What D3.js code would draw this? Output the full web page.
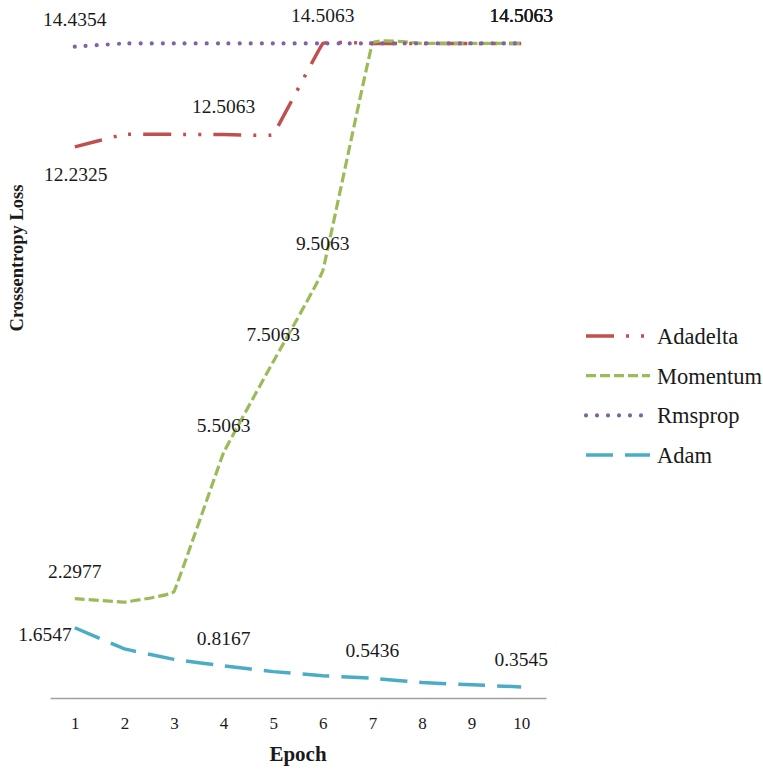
<!DOCTYPE html>
<html>
<head>
<meta charset="utf-8">
<script src="https://cdn.jsdelivr.net/npm/d3@7"></script>
<style>
  body { margin: 0; background: #fff; }
</style>
</head>
<body>
<div id="chart"></div>
<script>
// data
const epochs = [1, 2, 3, 4, 5, 6, 7, 8, 9, 10];
const adadelta = [12.2325, 12.5063, 12.5063, 12.5063, 12.5063, 14.5063, 14.5063, 14.5063, 14.5063, 14.5063];
const momentum = [2.2977, 2.22, 2.45, 5.5063, 7.5063, 9.5063, 14.5063, 14.5063, 14.5063, 14.5063];
const rmsprop = [14.4354, 14.5063, 14.5063, 14.5063, 14.5063, 14.5063, 14.5063, 14.5063, 14.5063, 14.5063];
const adam = [1.6547, 1.19, 0.96, 0.8167, 0.69, 0.60, 0.5436, 0.45, 0.40, 0.3545];

// which points carry a data label, and where
const adadeltaLabels = [[0, 'below'], [3, 'above'], [5, 'above'], [9, 'above']];
const momentumLabels = [[0, 'above'], [3, 'above'], [4, 'above'], [5, 'above'], [9, 'above']];
const rmspropLabels = [[0, 'above'], [9, 'above']];
const adamLabels = [[0, 'left'], [3, 'above'], [6, 'above'], [9, 'above']];

const series = [
  { name: 'Adadelta', values: adadelta, labels: adadeltaLabels, color: '#C0504D', dash: '28,12,3,12,3,12', width: 3.5, cap: 'butt' },
  { name: 'Momentum', values: momentum, labels: momentumLabels, color: '#9BBB59', dash: '10,4', width: 3.2, cap: 'butt' },
  { name: 'Rmsprop', values: rmsprop, labels: rmspropLabels, color: '#8064A2', dash: '0,11', width: 4.2, cap: 'round' },
  { name: 'Adam', values: adam, labels: adamLabels, color: '#4BACC6', dash: '27,12', width: 3.5, cap: 'butt' },
];

const width = 763;
const height = 770;
const serif = '"Liberation Serif", "Times New Roman", Tinos, serif';
const ink = '#1a1a1a';

const svg = d3.select('#chart')
  .append('svg')
  .attr('width', width)
  .attr('height', height);

const x = d3.scalePoint().domain(epochs).range([50, 546]).padding(0.5);
const y = d3.scaleLinear().domain([0, 15]).range([703, 21]);

// x axis (no y axis in the original)
const xAxis = svg.append('g')
  .attr('transform', 'translate(0,698)')
  .call(d3.axisBottom(x).tickSize(0).tickPadding(19));
xAxis.select('.domain').attr('stroke', '#a0a0a0').attr('stroke-width', 1.3);
xAxis.selectAll('text')
  .style('font-family', serif)
  .style('font-size', '17px')
  .style('fill', ink);

svg.append('text')
  .attr('x', 298)
  .attr('y', 761)
  .attr('text-anchor', 'middle')
  .style('font-family', serif)
  .style('font-size', '21px')
  .style('font-weight', 'bold')
  .style('fill', ink)
  .text('Epoch');

svg.append('text')
  .attr('transform', 'translate(23,258) rotate(-90)')
  .attr('text-anchor', 'middle')
  .style('font-family', serif)
  .style('font-size', '18.5px')
  .style('font-weight', 'bold')
  .style('fill', ink)
  .text('Crossentropy Loss');

// smoothed lines, tension high enough to avoid visible overshoot
const line = d3.line()
  .x((d, i) => x(epochs[i]))
  .y((d) => y(d))
  .curve(d3.curveCardinal.tension(0.85));

series.forEach((s) => {
  svg.append('path')
    .datum(s.values)
    .attr('fill', 'none')
    .attr('stroke', s.color)
    .attr('stroke-width', s.width)
    .attr('stroke-dasharray', s.dash)
    .attr('stroke-linecap', s.cap)
    .attr('d', line);
});

// data labels
series.forEach((s) => {
  s.labels.forEach(([i, pos]) => {
    const px = x(epochs[i]);
    const py = y(s.values[i]);
    const t = svg.append('text')
      .style('font-family', serif)
      .style('font-size', '19.5px')
      .style('fill', ink)
      .text(s.values[i].toFixed(4));
    if (pos === 'above') {
      t.attr('x', px).attr('y', py - 21).attr('text-anchor', 'middle');
    } else if (pos === 'below') {
      t.attr('x', px + 1).attr('y', py + 34).attr('text-anchor', 'middle');
    } else {
      t.attr('x', px - 3).attr('y', py + 13).attr('text-anchor', 'end');
    }
  });
});

// legend
const legend = svg.append('g').attr('transform', 'translate(586,336)');
series.forEach((s, i) => {
  const g = legend.append('g').attr('transform', `translate(0,${i * 39.7})`);
  g.append('line')
    .attr('x1', 0)
    .attr('x2', 64)
    .attr('stroke', s.color)
    .attr('stroke-width', s.width)
    .attr('stroke-dasharray', s.dash)
    .attr('stroke-linecap', s.cap);
  g.append('text')
    .attr('x', 71)
    .attr('y', 8)
    .style('font-family', serif)
    .style('font-size', '22.5px')
    .style('fill', ink)
    .text(s.name);
});
</script>
</body>
</html>
